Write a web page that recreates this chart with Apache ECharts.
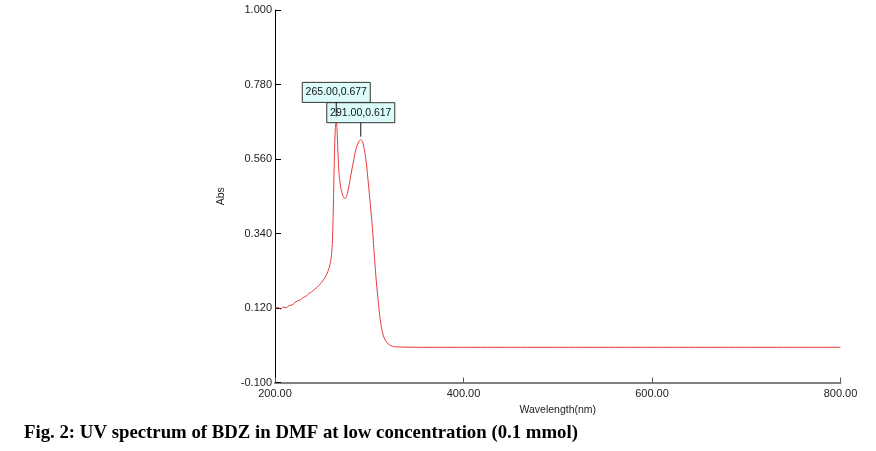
<!DOCTYPE html>
<html>
<head>
<meta charset="utf-8">
<script src="https://cdn.jsdelivr.net/npm/echarts@6/dist/echarts.min.js"></script>
<style>
html,body{margin:0;padding:0;background:#fff;}
#c{width:876px;height:451px;}
</style>
</head>
<body>
<div id="c"></div>
<script>
// Wavelength (nm)
var wavelengths = [200,203,206,209,212,215,218,221,224,227,230,233,236,239,242,245,248,251,254,256,258,259,260,261,262,263,264,265,266,267,268,270,272,274,276,278,280,283,286,289,291,293,295,297,299,301,303,305,307,309,311,313,315,317,320,323,326,330,350,400,450,500,550,600,650,700,750,800];
// Absorbance
var absorbance = [0.118,0.122,0.117,0.123,0.121,0.127,0.129,0.136,0.141,0.144,0.151,0.155,0.163,0.168,0.175,0.182,0.191,0.201,0.215,0.227,0.244,0.258,0.278,0.320,0.430,0.565,0.650,0.677,0.635,0.565,0.515,0.472,0.452,0.443,0.450,0.474,0.505,0.550,0.590,0.612,0.617,0.610,0.585,0.545,0.490,0.430,0.370,0.290,0.215,0.155,0.100,0.062,0.038,0.025,0.014,0.009,0.006,0.005,0.004,0.004,0.004,0.004,0.004,0.004,0.004,0.004,0.004,0.004];
var yTicks = [-0.1, 0.12, 0.34, 0.56, 0.78, 1.0];
var xTicks = [200, 400, 600, 800];
var peaks = [[265, 0.677], [291, 0.617]];
var peakLabels = ['265.00,0.677', '291.00,0.617'];
var caption = 'Fig. 2: UV spectrum of BDZ in DMF at low concentration (0.1 mmol)';

var seriesData = wavelengths.map(function (w, i) { return [w, absorbance[i]]; });

var chart = echarts.init(document.getElementById('c'));
var option = {
  animation: false,
  backgroundColor: '#fff',
  grid: { left: 275, right: 35.5, top: 10, bottom: 68.5, containLabel: false },
  xAxis: {
    type: 'value',
    min: xTicks[0], max: xTicks[xTicks.length - 1], interval: 200,
    name: 'Wavelength(nm)', nameLocation: 'middle', nameGap: 22,
    nameTextStyle: { fontFamily: 'Liberation Sans', fontSize: 10.5, color: '#222' },
    axisLine: { onZero: false, lineStyle: { color: '#808080', width: 2 } },
    axisTick: { inside: true, length: 5, lineStyle: { color: '#555', width: 1 } },
    axisLabel: { margin: 6, fontFamily: 'Liberation Sans', fontSize: 11, color: '#222',
      formatter: function (v) { return v.toFixed(2); } },
    splitLine: { show: false }
  },
  yAxis: {
    type: 'value',
    min: yTicks[0], max: yTicks[yTicks.length - 1], interval: 0.22,
    name: 'Abs', nameLocation: 'middle', nameGap: 48, nameRotate: 90,
    nameTextStyle: { fontFamily: 'Liberation Sans', fontSize: 10.5, color: '#222' },
    axisLine: { show: true, onZero: false, lineStyle: { color: '#000', width: 1 } },
    axisTick: { show: true, inside: true, length: 6, lineStyle: { color: '#000', width: 1 } },
    axisLabel: { margin: 3, fontFamily: 'Liberation Sans', fontSize: 11, color: '#222',
      formatter: function (v) { return v.toFixed(3); } },
    splitLine: { show: false }
  },
  series: [{
    type: 'line',
    data: seriesData,
    showSymbol: false,
    smooth: 0.25,
    lineStyle: { color: '#e8383a', width: 1 },
    z: 2
  }]
};
chart.setOption(option);

var g = [];
peaks.forEach(function (p, i) {
  var px = chart.convertToPixel({ gridIndex: 0 }, p);
  var boxW = 68, boxH = 20;
  var left = px[0] - 34, bottom = px[1] - 17;
  g.push({
    type: 'rect', z: 10 + i * 2,
    shape: { x: left, y: bottom - boxH, width: boxW, height: boxH },
    style: { fill: '#dcfcfc', stroke: '#333', lineWidth: 1 }
  });
  g.push({
    type: 'text', z: 11 + i * 2,
    style: { text: peakLabels[i], x: left + boxW / 2, y: bottom - boxH / 2,
      textAlign: 'center', textVerticalAlign: 'middle',
      font: '10.5px "Liberation Sans"', fill: '#111' }
  });
  g.push({
    type: 'line', z: 20,
    shape: { x1: px[0], y1: bottom, x2: px[0], y2: px[1] - 3 },
    style: { stroke: '#111', lineWidth: 1 }
  });
});
g.push({
  type: 'text', left: 24, top: 424,
  style: { text: caption, font: 'bold 18.8px "Liberation Serif"', fill: '#000' }
});
chart.setOption({ graphic: g });
</script>
</body>
</html>
